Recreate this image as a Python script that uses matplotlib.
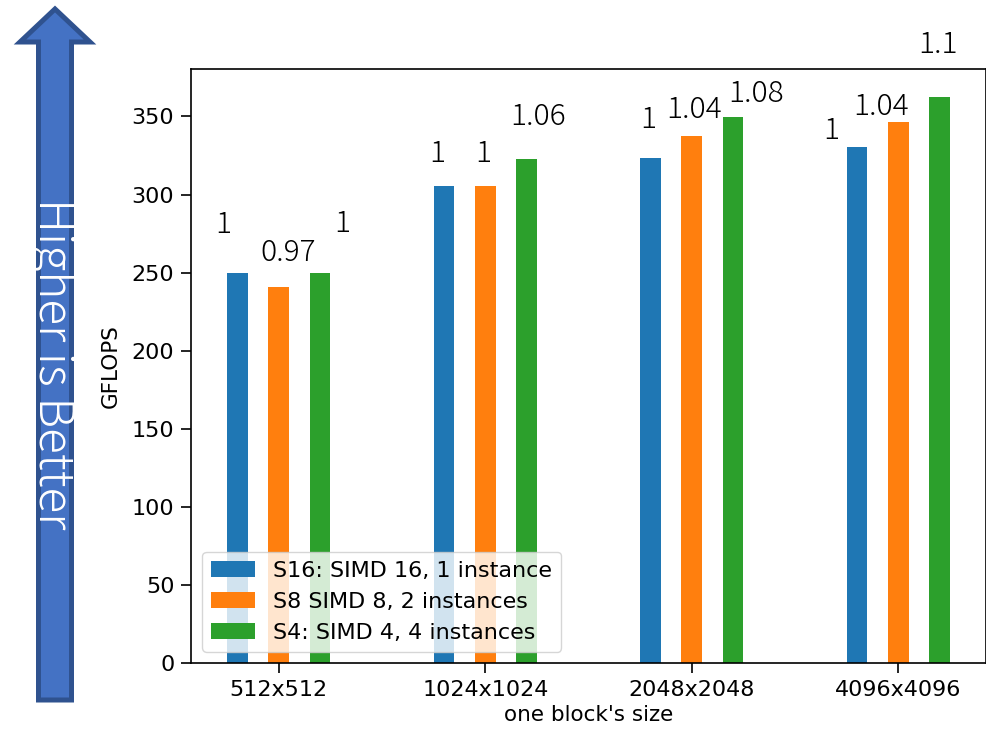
import matplotlib.pyplot as plt
import numpy as np
from matplotlib.patches import Polygon

# ============================ Data ======================
sizes = ["512x512", "1024x1024", "2048x2048", "4096x4096"]
series = ["S16: SIMD 16, 1 instance", "S8 SIMD 8, 2 instances", "S4: SIMD 4, 4 instances"]
s16 = [250, 305.7, 323.3, 330.3]
s8 = [241, 305.7, 337.6, 346.7]
s4 = [250, 323, 349.7, 362.3]
ratio_s16 = ["1", "1", "1", "1"]
ratio_s8 = ["0.97", "1", "1.04", "1.04"]
ratio_s4 = ["1", "1.06", "1.08", "1.1"]

values = [s16, s8, s4]
ratios = [ratio_s16, ratio_s8, ratio_s4]

# label nudges (pixels) so the ratios sit like in the slide
nudges = [
  [(-14, 40), (-7, 24), (-2, 30), (-26, 8)],
  [(9, 26), (-2, 24), (2, 18), (-17, 7)],
  [(22, 41), (12, 34), (23, 15), (-2, 44)],
]

W, H = 987, 729
fig = plt.figure(figsize=(W / 100, H / 100), dpi=100)

# ============================ Arrow ======================
deco = fig.add_axes([0, 0, 1, 1])
deco.set_xlim(0, W)
deco.set_ylim(H, 0)
deco.axis("off")
arrow = Polygon([(55, 9), (90, 42), (71.5, 42), (71.5, 700), (38.5, 700), (38.5, 42), (20, 42)],
                closed=True, facecolor="#4472C4", edgecolor="#2F528F", lw=3.6, joinstyle="miter")
deco.add_patch(arrow)
deco.text(53, 364, "Higher is Better", rotation=-90, ha="center", va="center",
          color="white", fontsize=34.5, fontweight="light",
          family=["Noto Sans CJK JP", "DejaVu Sans"])

# ============================ Bars ======================
ax = fig.add_axes([191 / W, 1 - 663 / H, (986 - 191) / W, (663 - 69) / H])
x = np.arange(len(sizes))
width = 0.1
offsets = [-0.2, 0.0, 0.2]
for i in range(3):
  ax.bar(x + offsets[i], values[i], width, label=series[i], color="C%d" % i)
  for j in range(len(sizes)):
    ax.annotate(ratios[i][j], xy=(x[j] + offsets[i], values[i][j]), xytext=nudges[i][j],
                textcoords="offset pixels", ha="center", va="baseline",
                fontsize=21.5, fontweight="light",
                family=["Noto Sans CJK JP", "DejaVu Sans"],
                annotation_clip=False)

ax.set_xticks(x)
ax.set_xticklabels(sizes)
ax.set_xlabel("one block's size", fontsize=15.5)
ax.set_ylabel("GFLOPS", fontsize=15.5, labelpad=8)
ax.tick_params(labelsize=16, length=7, width=1.2, pad=5)
for sp in ax.spines.values():
  sp.set_linewidth(1.2)
ax.legend(loc="lower left", fontsize=16)

fig.savefig("out.png", dpi=100)
